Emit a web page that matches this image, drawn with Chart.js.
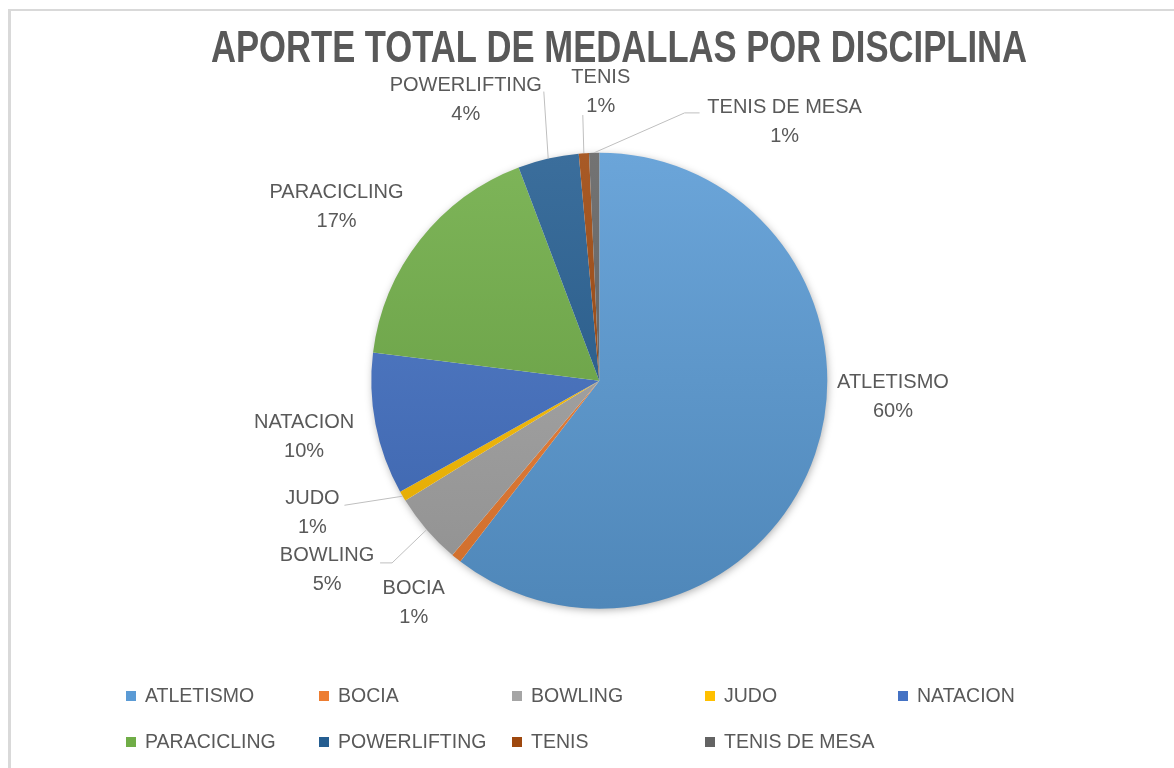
<!DOCTYPE html>
<html>
<head>
<meta charset="utf-8">
<script src="https://cdn.jsdelivr.net/npm/chart.js@4/dist/chart.umd.min.js"></script>
<style>
	body { margin: 0; background: #fff; }
</style>
</head>
<body>
<canvas id="chart" width="1174" height="768"></canvas>
<script>

// data
var disciplinas = ['ATLETISMO','BOCIA','BOWLING','JUDO','NATACION','PARACICLING','POWERLIFTING','TENIS','TENIS DE MESA'];
var medallas = [84, 1, 7, 1, 14, 24, 6, 1, 1];
var colores = ['#5B9BD5','#ED7D31','#A5A5A5','#FFC000','#4472C4','#70AD47','#255E91','#9E480E','#636363'];
var titulo = 'APORTE TOTAL DE MEDALLAS POR DISCIPLINA';

// label placement (angle from top clockwise, distance / radius, leader start, hook)
var etiquetas = [
	{ang: 93.2, dist: 1.290},
	{ang: 219.9, dist: 1.269},
	{ang: 235.2, dist: 1.454, lead: [65,-7], hook: -12},
	{ang: 245.2, dist: 1.386, lead: [32,-8]},
	{ang: 259.2, dist: 1.318},
	{ang: 303.5, dist: 1.382},
	{ang: 334.6, dist: 1.365, lead: [78,-8]},
	{ang: 0.3, dist: 1.266, lead: [-18,23]},
	{ang: 35.6, dist: 1.396, lead: [-100,-9], hook: 15}
];

var textColor = '#595959';
var labelFont = '20px "Liberation Sans", Arial, sans-serif';

function mix(hex, target, amt) {
	var n = parseInt(hex.slice(1), 16);
	var r = (n >> 16) & 255, g = (n >> 8) & 255, b = n & 255;
	r = Math.round(r + (target - r) * amt);
	g = Math.round(g + (target - g) * amt);
	b = Math.round(b + (target - b) * amt);
	return 'rgb(' + r + ',' + g + ',' + b + ')';
}

var total = medallas.reduce(function(a, b){ return a + b; }, 0);

// frame, title, shadow, labels, legend
var decor = {
	id: 'decor',
	beforeDraw: function(chart) {
		var ctx = chart.ctx;
		ctx.save();
		ctx.fillStyle = '#d9d9d9';
		ctx.fillRect(8, 9, 3, 759);
		ctx.fillRect(8, 9, 1166, 2);
		// title, squeezed to the width of the original
		ctx.fillStyle = textColor;
		ctx.font = 'bold 45px "Liberation Sans", Arial, sans-serif';
		ctx.textAlign = 'center';
		ctx.textBaseline = 'alphabetic';
		var w = ctx.measureText(titulo).width;
		ctx.translate(619, 62);
		ctx.scale(816 / w, 1);
		ctx.fillText(titulo, 0, 0);
		ctx.restore();
	},
	beforeDatasetsDraw: function(chart) {
		var arc = chart.getDatasetMeta(0).data[0];
		if (!arc) return;
		var ctx = chart.ctx;
		ctx.save();
		ctx.shadowColor = 'rgba(0,0,0,0.35)';
		ctx.shadowBlur = 9;
		ctx.shadowOffsetX = 1;
		ctx.shadowOffsetY = 2;
		ctx.fillStyle = '#ffffff';
		ctx.beginPath();
		ctx.arc(arc.x, arc.y, arc.outerRadius - 1, 0, Math.PI * 2);
		ctx.fill();
		ctx.restore();
	},
	afterDatasetsDraw: function(chart) {
		var ctx = chart.ctx;
		var arcs = chart.getDatasetMeta(0).data;
		ctx.save();
		ctx.font = labelFont;
		ctx.textAlign = 'center';
		ctx.textBaseline = 'middle';
		arcs.forEach(function(arc, i) {
			var e = etiquetas[i];
			var R = arc.outerRadius;
			var a = (e.ang - 90) * Math.PI / 180;
			var lx = arc.x + Math.cos(a) * R * e.dist;
			var ly = arc.y + Math.sin(a) * R * e.dist;
			if (e.lead) {
				var mid = (arc.startAngle + arc.endAngle) / 2;
				ctx.strokeStyle = '#bfbfbf';
				ctx.lineWidth = 1;
				ctx.beginPath();
				ctx.moveTo(arc.x + Math.cos(mid) * R, arc.y + Math.sin(mid) * R);
				ctx.lineTo(lx + e.lead[0], ly + e.lead[1]);
				if (e.hook) ctx.lineTo(lx + e.lead[0] + e.hook, ly + e.lead[1]);
				ctx.stroke();
			}
			var pct = Math.round(medallas[i] / total * 100) + '%';
			ctx.fillStyle = textColor;
			ctx.fillText(disciplinas[i], lx, ly - 14.5);
			ctx.fillText(pct, lx, ly + 14.5);
		});

		// legend
		ctx.font = '19.5px "Liberation Sans", Arial, sans-serif';
		ctx.textAlign = 'left';
		for (var i = 0; i < disciplinas.length; i++) {
			var col = i % 5, row = Math.floor(i / 5);
			var x = 126 + col * 193;
			var y = 696 + row * 46;
			ctx.fillStyle = colores[i];
			ctx.fillRect(x, y - 5, 10, 10);
			ctx.fillStyle = textColor;
			ctx.fillText(disciplinas[i], x + 19, y + 1);
		}
		ctx.restore();
	}
};

var ctx = document.getElementById('chart').getContext('2d');
var chart = new Chart(ctx, {
	type: 'pie',
	data: {
		labels: disciplinas,
		datasets: [{
			data: medallas,
			borderWidth: 0,
			backgroundColor: function(c) {
				var area = c.chart.chartArea;
				var base = colores[c.dataIndex];
				if (!area) return base;
				var g = c.chart.ctx.createLinearGradient(0, area.top, 0, area.bottom);
				g.addColorStop(0, mix(base, 255, 0.1));
				g.addColorStop(1, mix(base, 0, 0.13));
				return g;
			}
		}]
	},
	options: {
		responsive: false,
		animation: false,
		layout: {padding: {top: 152.7, bottom: 159.3, left: 371.3, right: 346.7}},
		plugins: {
			legend: {display: false},
			title: {display: false},
			tooltip: {enabled: false}
		}
	},
	plugins: [decor]
});
</script>
</body>
</html>
